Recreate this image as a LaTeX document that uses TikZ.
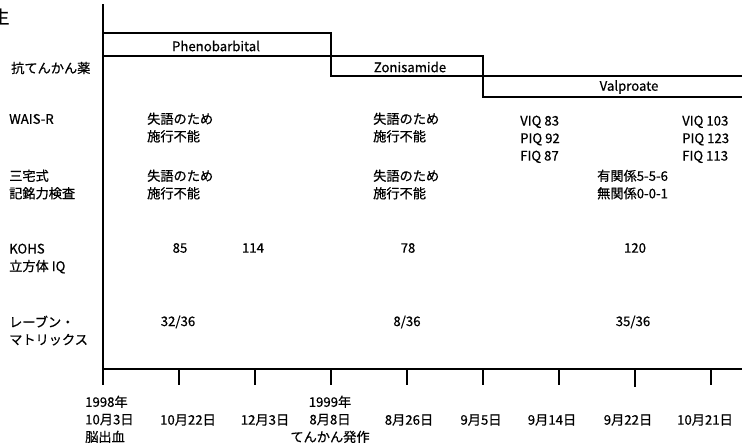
\documentclass[tikz,border=0pt]{standalone}
\usepackage{fontspec}
\setmainfont{Noto Sans CJK JP}[FakeBold=0.6]
\begin{document}
\begin{tikzpicture}[
		x=1pt, y=-1pt,
		every node/.style={inner sep=0pt, font=\fontsize{13.2}{17.5}\selectfont},
		axisline/.style={line width=2pt},
		drugline/.style={line width=1.8pt},
		tickline/.style={line width=2pt},
		textblock/.style={anchor=north west, align=left},
		datelabel/.style={anchor=center},
	]
	\useasboundingbox (0,0) rectangle (742,447);

	% clipped heading glyph
	\node[font=\fontsize{18}{18}\selectfont] (head) at (0.5,16.5) {生};

	% axes
	\draw[axisline] (103,4) -- (103,385);
	\draw[axisline] (103,369) -- (742,369);

	% drug periods
	\draw[drugline] (103,33) -- (331,33) -- (331,76) -- (742,76);
	\draw[drugline] (103,56) -- (483,56) -- (483,97) -- (742,97);
	\node (pb) at (216,46) {Phenobarbital};
	\node (zns) at (410,67) {Zonisamide};
	\node (vpa) at (629,87) {Valproate};

	% row labels
	\node[anchor=west] (aed) at (11,68) {抗てんかん薬};
	\node[anchor=west] (wais) at (9,119) {WAIS-R};
	\node[textblock] (miyake) at (9,169.5) {三宅式\\記銘力検査};
	\node[textblock] (kohs) at (9,243.5) {KOHS\\立方体 IQ};
	\node[textblock] (raven) at (9,315.5) {レーブン・\\マトリックス};

	% WAIS-R results
	\node[textblock] (waisa) at (147,112.5) {失語のため\\施行不能};
	\node[textblock] (waisb) at (373,112.5) {失語のため\\施行不能};
	\node[textblock] (waisc) at (520,115.5) {VIQ 83\\PIQ 92\\FIQ 87};
	\node[textblock] (waisd) at (682,115.5) {VIQ 103\\PIQ 123\\FIQ 113};

	% Miyake results
	\node[textblock] (miyakea) at (147,169.5) {失語のため\\施行不能};
	\node[textblock] (miyakeb) at (373,169.5) {失語のため\\施行不能};
	\node[textblock] (miyakec) at (597,169.5) {有関係5-5-6\\無関係0-0-1};

	% KOHS results
	\node (kohsa) at (180,248) {85};
	\node (kohsb) at (253,248) {114};
	\node (kohsc) at (408,248) {78};
	\node (kohsd) at (635,248) {120};

	% Raven results
	\node (ravena) at (178,322) {32/36};
	\node (ravenb) at (407,322) {8/36};
	\node (ravenc) at (633,322) {35/36};

	% ticks
	\draw[tickline] (179,369) -- (179,385);
	\draw[tickline] (255,369) -- (255,385);
	\draw[tickline] (331,369) -- (331,385);
	\draw[tickline] (407,369) -- (407,385);
	\draw[tickline] (483,369) -- (483,385);
	\draw[tickline] (559,369) -- (559,385);
	\draw[tickline] (635,369) -- (635,387);
	\draw[tickline] (711,369) -- (711,385);

	% dates
	\node[textblock] (d1) at (85,395.5) {1998年\\10月3日\\脳出血};
	\node[datelabel] (d2) at (188,420) {10月22日};
	\node[datelabel] (d3) at (265,420) {12月3日};
	\node[anchor=north, align=center] (d4) at (330,395.5) {1999年\\8月8日\\てんかん発作};
	\node[datelabel] (d5) at (409,420) {8月26日};
	\node[datelabel] (d6) at (481,420) {9月5日};
	\node[datelabel] (d7) at (552,420) {9月14日};
	\node[datelabel] (d8) at (628,420) {9月22日};
	\node[datelabel] (d9) at (705,420) {10月21日};
\end{tikzpicture}
\end{document}
